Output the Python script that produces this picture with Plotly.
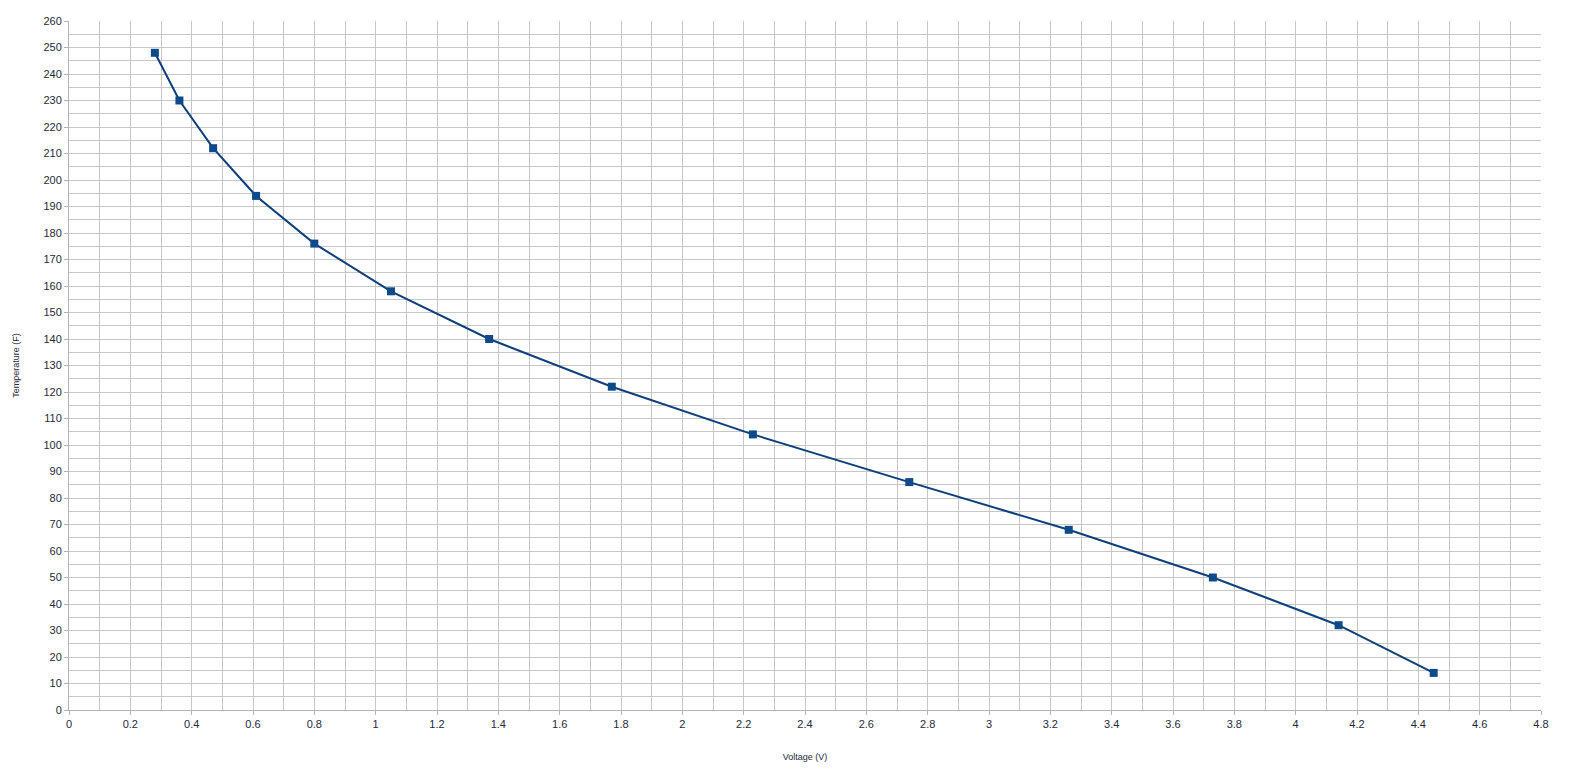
import plotly.graph_objects as go

# %%
voltage = [0.28, 0.36, 0.47, 0.61, 0.80, 1.05, 1.37, 1.77, 2.23, 2.74, 3.26, 3.73, 4.14, 4.45]
temperature_f = [248, 230, 212, 194, 176, 158, 140, 122, 104, 86, 68, 50, 32, 14]

# %%
fig = go.Figure()
fig.add_trace(
    go.Scatter(
        x=voltage,
        y=temperature_f,
        mode="lines+markers",
        line=dict(color="#0e3f7c", width=2),
        marker=dict(symbol="square", size=8, color="#0e4a8a"),
        showlegend=False,
    )
)

grid = "#c6c6c6"
axis_common = dict(
    showline=True,
    linecolor="#b3b3b3",
    linewidth=1,
    gridcolor=grid,
    gridwidth=1,
    zeroline=False,
    ticks="outside",
    ticklen=4,
    tickcolor="#b3b3b3",
    tickfont=dict(family="Liberation Sans, Arial", size=11, color="#1f2a3a"),
    mirror=False,
)

fig.update_xaxes(
    range=[0, 4.8],
    dtick=0.2,
    tick0=0,
    minor=dict(dtick=0.1, showgrid=True, gridcolor=grid, ticks=""),
    title=dict(text="Voltage (V)", font=dict(family="Liberation Sans, Arial", size=9, color="#1f2a3a"), standoff=24),
    **axis_common,
)
fig.update_yaxes(
    range=[0, 260],
    dtick=10,
    tick0=0,
    minor=dict(dtick=5, showgrid=True, gridcolor=grid, ticks=""),
    title=dict(text="Temperature (F)", font=dict(family="Liberation Sans, Arial", size=9, color="#1f2a3a"), standoff=22),
    **axis_common,
)

fig.update_layout(
    width=1579,
    height=774,
    margin=dict(l=69, r=38, t=21, b=64),
    plot_bgcolor="white",
    paper_bgcolor="white",
)

# drop the default body margin so the figure sits at the window's corner
fig.write_html(
    "out.html",
    config={"displayModeBar": False},
    post_script="document.body.style.margin = '0'; document.body.style.overflow = 'hidden';",
)
